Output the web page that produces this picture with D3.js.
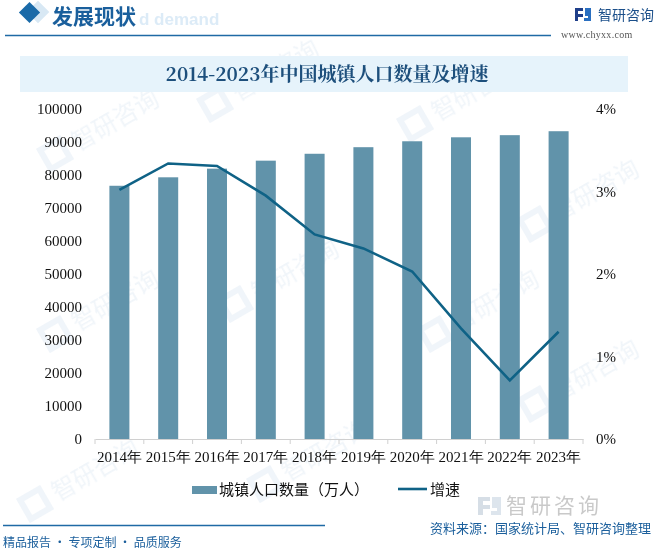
<!DOCTYPE html>
<html><head><meta charset="utf-8">
<script src="https://cdn.jsdelivr.net/npm/d3@7"></script>
<style>body{margin:0;background:#fff}svg{display:block}</style>
</head><body>
<svg id="c" width="654" height="557"></svg>
<script>
const years = ["2014年","2015年","2016年","2017年","2018年","2019年","2020年","2021年","2022年","2023年"];
const population = [76738, 79302, 81924, 84343, 86433, 88426, 90220, 91425, 92071, 93267];
const growth = [3.02, 3.34, 3.31, 2.95, 2.48, 2.31, 2.03, 1.34, 0.71, 1.30];
const leftTicks = [0,10000,20000,30000,40000,50000,60000,70000,80000,90000,100000];
const rightTicks = [0,1,2,3,4];
const chartTitle = "2014-2023年中国城镇人口数量及增速";
const seriesNames = ["城镇人口数量（万人）","增速"];

const svg = d3.select("#c");
const blue = "#1f6aa5", textBlue = "#1b5f9c";
const serif = "'Liberation Serif','DejaVu Serif',serif";
const sans = "'Noto Sans CJK SC','Noto Sans',sans-serif";

// faint watermarks
const wm = svg.append("g").attr("opacity",0.07);
[[40,150],[40,330],[200,100],[400,120],[220,300],[420,330],[520,220],[520,400],[20,500],[250,480]].forEach(([x,y])=>{
  const g = wm.append("g").attr("transform",`translate(${x},${y}) rotate(-30)`);
  g.append("rect").attr("x",0).attr("y",0).attr("width",22).attr("height",22).attr("fill","none").attr("stroke","#2a6fb0").attr("stroke-width",6);
  g.append("text").attr("x",32).attr("y",20).attr("font-family",sans).attr("font-size",24).attr("fill","#2a6fb0").text("智研咨询");
});

// header
svg.append("rect").attr("x",30).attr("y",4).attr("width",16).attr("height",16).attr("fill","#d8e8f4")
  .attr("transform","rotate(45 38 12)");
svg.append("rect").attr("x",22).attr("y",5).attr("width",15).attr("height",15).attr("fill","#1a6aa8")
  .attr("transform","rotate(45 29.5 12.5)");
svg.append("text").attr("x",139).attr("y",25).attr("font-family","Arial,sans-serif").attr("font-weight","bold")
  .attr("font-size",17).attr("fill","#dcebf7").text("d demand");
svg.append("text").attr("x",52).attr("y",24).attr("font-family",sans).attr("font-weight","bold")
  .attr("font-size",21).attr("fill","#1a5f9c").text("发展现状");
svg.append("line").attr("x1",5).attr("x2",551).attr("y1",35.5).attr("y2",35.5).attr("stroke",blue).attr("stroke-width",1.5);
// logo
const lg = svg.append("g").attr("transform","translate(575,8)");
lg.append("path").attr("d","M0,0H8V3H3V6H8V9H3V13H0Z").attr("fill","#1f3f8a");
lg.append("path").attr("d","M10,0H16V13H9V10H13V8H10Z").attr("fill","#2a6fc0");
svg.append("text").attr("x",598).attr("y",20).attr("font-family",sans).attr("font-size",14).attr("fill","#1b4f8a").text("智研咨询");
svg.append("text").attr("x",561).attr("y",38).attr("font-family",serif).attr("font-size",10).attr("fill","#555").attr("letter-spacing",0.3).text("www.chyxx.com");

// title box
svg.append("rect").attr("x",20).attr("y",56).attr("width",608).attr("height",36).attr("fill","#e6f3fb");
svg.append("text").attr("x",327).attr("y",81).attr("text-anchor","middle").attr("font-family","'Noto Serif CJK SC','Liberation Serif',serif")
  .attr("font-weight","bold").attr("font-size",19).attr("fill","#1d4f7c").text(chartTitle);

// scales
const x = d3.scaleBand().domain(years).range([95,583]).paddingInner(0.59).paddingOuter(0.295);
const yL = d3.scaleLinear().domain([0,100000]).range([439,109]);
const yR = d3.scaleLinear().domain([0,4]).range([439,109]);

// bars
svg.append("g").selectAll("rect").data(population).join("rect")
  .attr("x",(d,i)=>x(years[i])).attr("width",x.bandwidth())
  .attr("y",d=>yL(d)).attr("height",d=>yL(0)-yL(d)).attr("fill","#6193aa");

// x axis
const xb = d3.scaleBand().domain(years).range([95,583]);
const xa = svg.append("g").attr("transform","translate(0,439)")
  .call(d3.axisBottom(xb).tickSize(0).tickPadding(12));
xa.select(".domain").attr("stroke","#d0d0d0");
xa.selectAll("text").attr("font-family",serif).attr("font-size",15).attr("fill","#111");
svg.append("g").selectAll("line").data(d3.range(years.length+1)).join("line")
  .attr("x1",i=>95+i*xb.step()).attr("x2",i=>95+i*xb.step()).attr("y1",439).attr("y2",444).attr("stroke","#d0d0d0");

// left axis
const la = svg.append("g").attr("transform","translate(82,0)")
  .call(d3.axisLeft(yL).tickValues(leftTicks).tickSize(0).tickPadding(0).tickFormat(d3.format("d")));
la.select(".domain").remove();
la.selectAll("text").attr("font-family",serif).attr("font-size",15).attr("fill","#111");

// right axis
const ra = svg.append("g").attr("transform","translate(596,0)")
  .call(d3.axisRight(yR).tickValues(rightTicks).tickSize(0).tickPadding(0).tickFormat(d=>d+"%"));
ra.select(".domain").remove();
ra.selectAll("text").attr("font-family",serif).attr("font-size",15).attr("fill","#111");

// line
svg.append("path").datum(growth)
  .attr("d",d3.line().x((d,i)=>x(years[i])+x.bandwidth()/2).y(d=>yR(d)))
  .attr("fill","none").attr("stroke","#0f6286").attr("stroke-width",2.6);

// legend
svg.append("rect").attr("x",192).attr("y",486).attr("width",25).attr("height",8).attr("fill","#6193aa");
svg.append("text").attr("x",219).attr("y",495).attr("font-family",sans).attr("font-size",15).attr("fill","#111").text(seriesNames[0]);
svg.append("line").attr("x1",398).attr("x2",427).attr("y1",489).attr("y2",489).attr("stroke","#0f6286").attr("stroke-width",2.6);
svg.append("text").attr("x",430).attr("y",495).attr("font-family",sans).attr("font-size",15).attr("fill","#111").text(seriesNames[1]);

// bottom watermark logo
const bl = svg.append("g").attr("opacity",0.35);
bl.append("path").attr("d","M478,497H490V501H483V505H490V509H483V515H478Z").attr("fill","#8aa0b8");
bl.append("path").attr("d","M492,497H501V515H491V511H497V508H492Z").attr("fill","#9fb6cc");
bl.append("text").attr("x",506).attr("y",513).attr("font-family",sans).attr("font-size",21).attr("fill","#666").attr("letter-spacing",3).text("智研咨询");

// footer
svg.append("line").attr("x1",3).attr("x2",325).attr("y1",525.5).attr("y2",525.5).attr("stroke",blue).attr("stroke-width",1.5);
svg.append("text").attr("x",651).attr("y",533).attr("text-anchor","end").attr("font-family",sans).attr("font-size",13).attr("fill",textBlue).text("资料来源：国家统计局、智研咨询整理");
svg.append("text").attr("x",3).attr("y",547).attr("font-family",sans).attr("font-size",12).attr("fill",textBlue).text("精品报告 · 专项定制 · 品质服务");
</script>
</body></html>
